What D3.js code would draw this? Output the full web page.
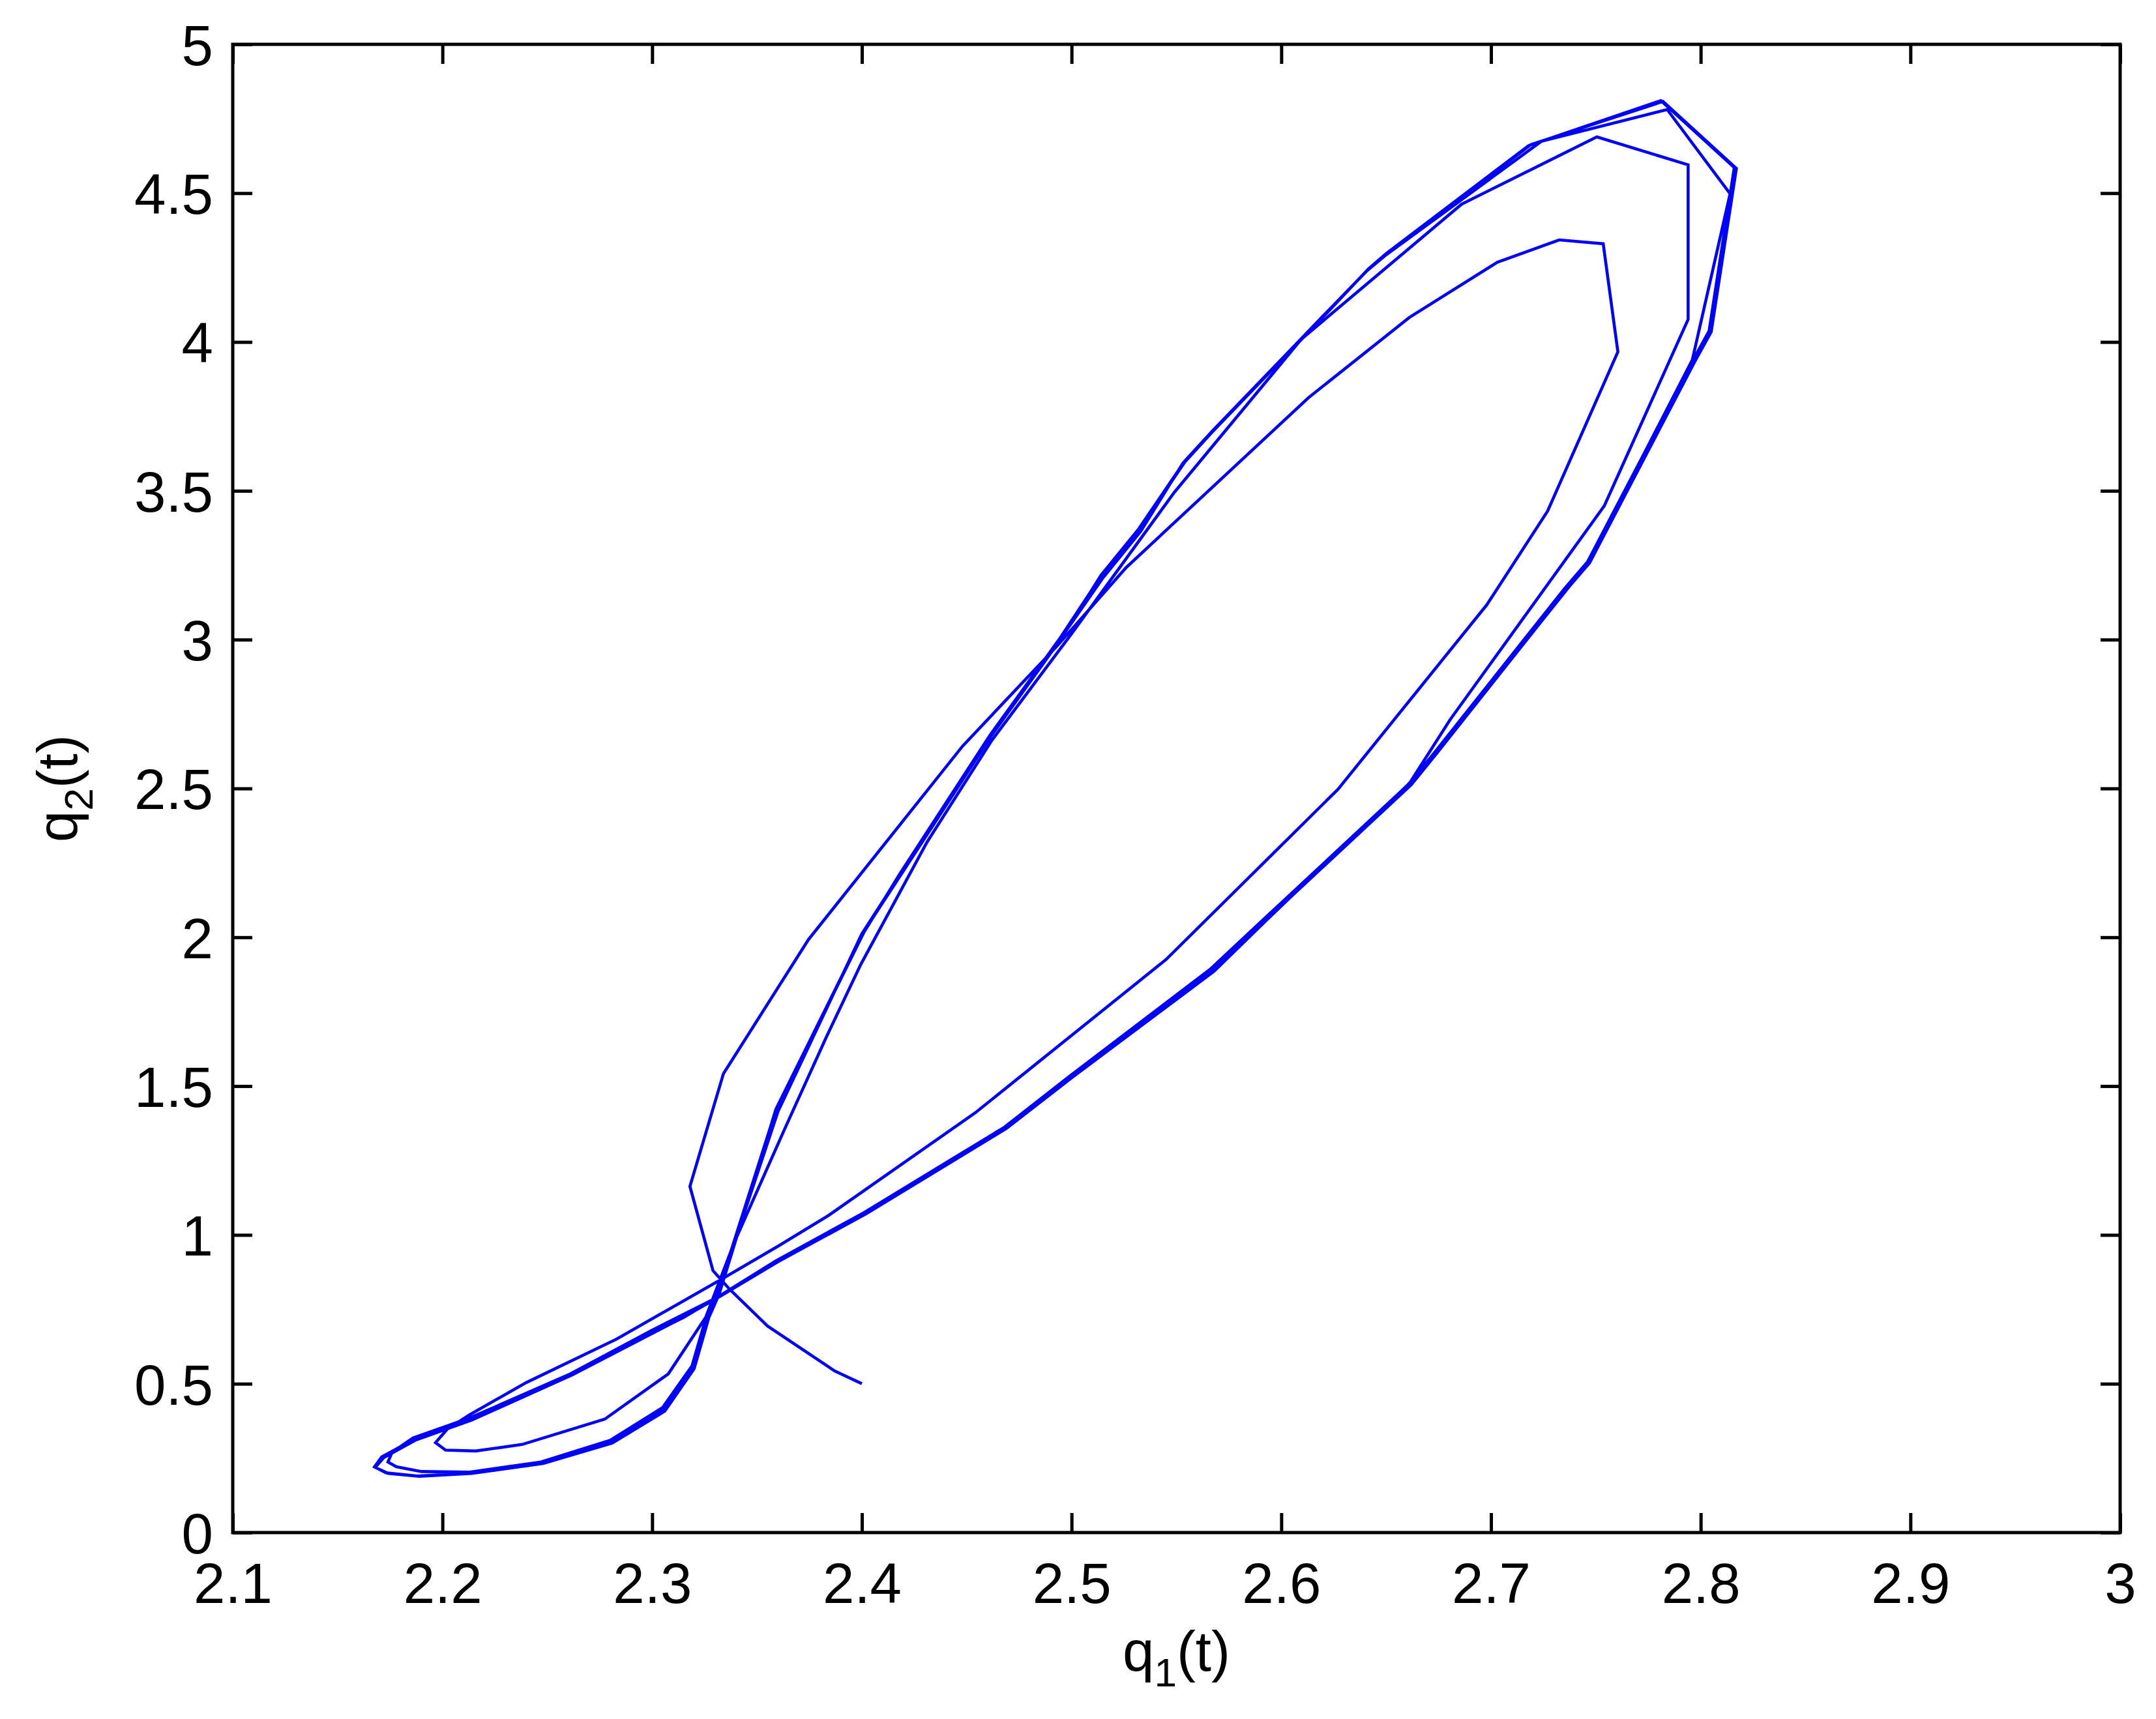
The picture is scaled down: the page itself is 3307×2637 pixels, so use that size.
<!DOCTYPE html>
<html><head><meta charset="utf-8">
<script src="https://cdn.jsdelivr.net/npm/d3@7"></script>
<style>html,body{margin:0;padding:0;background:#fff}</style>
</head><body>
<svg id="c" width="3307" height="2637"></svg>
<script>
// ---- data ----
const xTicks = [2.1,2.2,2.3,2.4,2.5,2.6,2.7,2.8,2.9,3];
const xTickLabels = ["2.1","2.2","2.3","2.4","2.5","2.6","2.7","2.8","2.9","3"];
const yTicks = [0,0.5,1,1.5,2,2.5,3,3.5,4,4.5,5];
const yTickLabels = ["0","0.5","1","1.5","2","2.5","3","3.5","4","4.5","5"];
const q1 = [
 2.400,2.387,2.355,2.337,2.329,2.318,2.334,2.3745,2.448,2.493,2.526,2.613,2.661,2.703,2.7325,2.7535,2.7605,2.727,2.698,2.627,2.545,2.454,2.384,2.360,2.333,2.283,2.240,2.213,2.2024,2.1967,2.2015,2.2158,2.238,2.2774,2.3077,2.3256,
 2.339,2.3635,2.383,2.3995,2.431,2.462,2.500,2.549,2.6095,2.686,2.7505,2.794,2.794,2.754,2.6805,2.661,2.592,2.566,2.499,2.468,2.401,2.359,2.331,2.300,2.261,2.213,2.186,2.176,2.174,2.178,2.190,2.213,2.247,2.280,2.305,2.319,2.326,
 2.331,2.359,2.401,2.418,2.461,2.494,2.514,2.532,2.554,2.567,2.621,2.6415,2.650,2.718,2.781,2.816,2.804,2.796,2.746,2.735,2.673,2.661,2.592,2.566,2.499,2.468,2.401,2.359,2.331,2.315,2.261,2.2131,2.1864,2.171,2.1676,2.173,2.188,2.213,2.247,2.280,2.305,2.319,2.326,
 2.331,2.360,2.400,2.418,2.461,2.494,2.515,2.533,2.553,2.566,2.620,2.641,2.650,2.724,2.784,2.814,2.796,2.746,2.673,2.660,2.593,2.568,2.500,2.469,2.402,2.360,2.331,2.314,2.262,2.214,2.187,2.172,2.168,2.174,2.189,2.214,2.248,2.281,2.306,2.320,2.327,
 2.332,2.359,2.401,2.419,2.462,2.495,2.514,2.532,2.554,2.567,2.621,2.642,2.651,2.719,2.782,2.817,2.805,2.797,2.747,2.736,2.674,2.662,2.593,2.567,2.499,2.468,2.401,2.359
];
const q2 = [
 0.500,0.543,0.694,0.817,0.880,1.163,1.542,1.992,2.642,2.978,3.242,3.813,4.082,4.268,4.343,4.330,3.967,3.432,3.117,2.497,1.925,1.410,1.065,0.962,0.851,0.650,0.504,0.396,0.348,0.302,0.277,0.274,0.296,0.381,0.533,0.724,
 0.972,1.361,1.664,1.909,2.319,2.662,3.020,3.495,4.009,4.463,4.689,4.595,4.076,3.449,2.731,2.516,2.063,1.892,1.533,1.362,1.075,0.913,0.790,0.680,0.533,0.385,0.318,0.270,0.237,0.221,0.205,0.203,0.237,0.310,0.420,0.560,0.730,
 0.800,1.420,2.017,2.212,2.678,3.000,3.213,3.369,3.597,3.697,4.092,4.245,4.297,4.660,4.811,4.586,4.037,3.935,3.261,3.171,2.620,2.516,2.063,1.892,1.533,1.362,1.075,0.913,0.790,0.723,0.533,0.381,0.313,0.254,0.221,0.201,0.190,0.200,0.234,0.303,0.410,0.552,0.724,
 0.800,1.415,2.012,2.208,2.672,2.995,3.208,3.364,3.592,3.692,4.088,4.240,4.293,4.674,4.781,4.498,3.940,3.255,2.612,2.510,2.058,1.886,1.528,1.358,1.071,0.910,0.788,0.720,0.530,0.378,0.310,0.252,0.219,0.199,0.189,0.199,0.232,0.301,0.408,0.550,0.722,
 0.802,1.422,2.020,2.214,2.680,3.003,3.216,3.372,3.600,3.700,4.095,4.248,4.300,4.663,4.808,4.583,4.034,3.932,3.258,3.168,2.617,2.513,2.060,1.889,1.530,1.360,1.073,0.912
];

// ---- layout ----
const plotL = 357, plotR = 3252, plotT = 68, plotB = 2351;
const svg = d3.select("#c");
const x = d3.scaleLinear().domain([2.1, 3]).range([plotL, plotR]);
const y = d3.scaleLinear().domain([0, 5]).range([plotB, plotT]);
const font = "'Liberation Sans', Arial, Helvetica, sans-serif";
const fs = 87;
const tickLen = 30;

// curve
const pts = q1.map((d, i) => [d, q2[i]]);
const line = d3.line().x(d => x(d[0])).y(d => y(d[1]));
svg.append("clipPath").attr("id", "plotclip").append("rect")
  .attr("x", plotL).attr("y", plotT).attr("width", plotR - plotL).attr("height", plotB - plotT);
svg.append("path").datum(pts).attr("d", line)
  .attr("fill", "none").attr("stroke", "#0000ff").attr("stroke-width", 4.6)
  .attr("stroke-linejoin", "miter").attr("stroke-miterlimit", 4)
  .attr("clip-path", "url(#plotclip)");

// axes (inward ticks, box)
const axB = d3.axisBottom(x).tickValues(xTicks).tickSize(-tickLen).tickPadding(0).tickFormat((d, i) => xTickLabels[i]);
const axT = d3.axisTop(x).tickValues(xTicks).tickSize(-tickLen).tickFormat("");
const axL = d3.axisLeft(y).tickValues(yTicks).tickSize(-tickLen).tickPadding(0).tickFormat((d, i) => yTickLabels[i]);
const axR = d3.axisRight(y).tickValues(yTicks).tickSize(-tickLen).tickFormat("");

function style(g) {
  g.select(".domain").remove();
  g.selectAll(".tick line").attr("stroke", "#000").attr("stroke-width", 5);
  g.selectAll(".tick text").attr("fill", "#000").style("font-family", font).style("font-size", fs + "px");
}
const gB = svg.append("g").attr("transform", `translate(0,${plotB})`).call(axB).call(style);
gB.selectAll(".tick text").attr("y", 108).attr("dy", null);
svg.append("g").attr("transform", `translate(0,${plotT})`).call(axT).call(style);
const gL = svg.append("g").attr("transform", `translate(${plotL},0)`).call(axL).call(style);
gL.selectAll(".tick text").attr("x", -30).attr("dy", "0.36em");
svg.append("g").attr("transform", `translate(${plotR},0)`).call(axR).call(style);

svg.append("rect").attr("x", plotL).attr("y", plotT).attr("width", plotR - plotL).attr("height", plotB - plotT)
  .attr("fill", "none").attr("stroke", "#000").attr("stroke-width", 5);

// axis labels
const xl = svg.append("text").attr("x", (plotL + plotR) / 2).attr("y", 2563)
  .attr("text-anchor", "middle").style("font-family", font).style("font-size", fs + "px").attr("fill", "#000");
xl.append("tspan").text("q");
xl.append("tspan").text("1").style("font-size", "62px").attr("dy", 24);
xl.append("tspan").text("(t)").attr("dy", -24);

const yl = svg.append("text").attr("transform", `translate(118,${(plotT + plotB) / 2}) rotate(-90)`)
  .attr("text-anchor", "middle").style("font-family", font).style("font-size", fs + "px").attr("fill", "#000");
yl.append("tspan").text("q");
yl.append("tspan").text("2").style("font-size", "62px").attr("dy", 24);
yl.append("tspan").text("(t)").attr("dy", -24);
</script>
</body></html>
